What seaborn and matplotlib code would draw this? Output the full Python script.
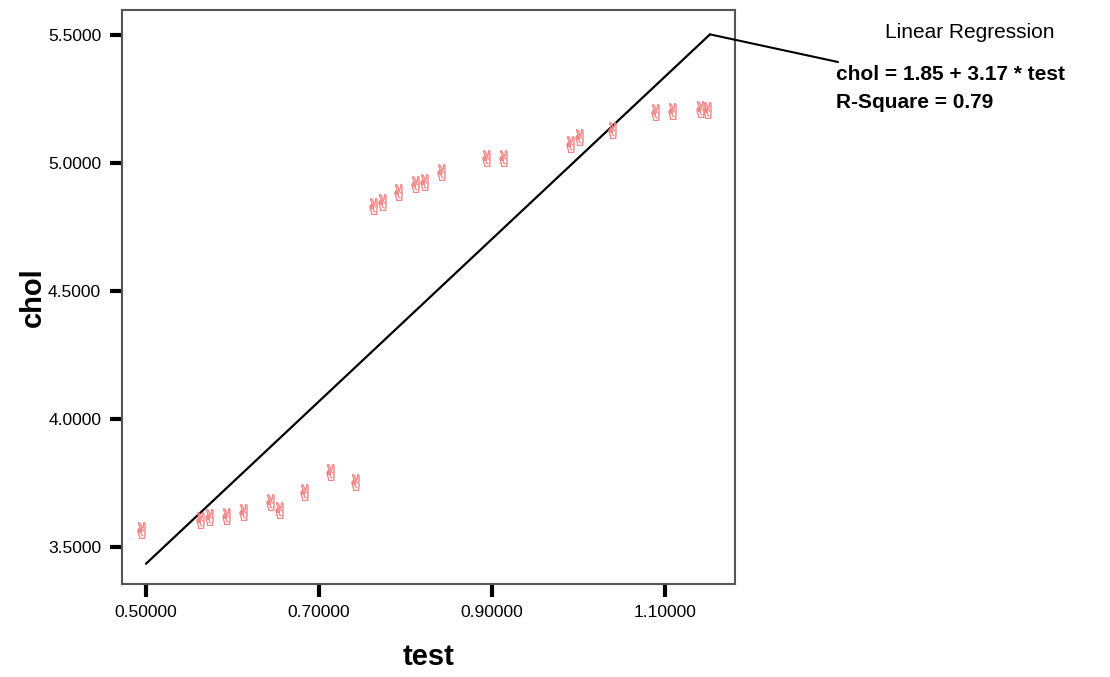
import matplotlib
matplotlib.use("Agg")
import matplotlib.pyplot as plt
import seaborn as sns
import numpy as np
import pandas as pd

# Observations
test = [0.494, 0.562, 0.573, 0.592, 0.612, 0.643, 0.654, 0.683, 0.713, 0.742,
        0.762, 0.773, 0.791, 0.811, 0.821, 0.841, 0.893, 0.913, 0.990, 1.001,
        1.039, 1.088, 1.108, 1.140, 1.148]
chol = [3.566, 3.605, 3.617, 3.621, 3.636, 3.675, 3.644, 3.714, 3.792, 3.753,
        4.831, 4.846, 4.885, 4.916, 4.924, 4.963, 5.021, 5.018, 5.072, 5.103,
        5.130, 5.197, 5.204, 5.212, 5.208]

# Fitted model
intercept = 1.85
slope = 3.17
r_square = 0.79
fit_range = [0.50, 1.152]

x_ticks = [0.5, 0.7, 0.9, 1.1]
x_tick_labels = ["0.50000", "0.70000", "0.90000", "1.10000"]
y_ticks = [3.5, 4.0, 4.5, 5.0, 5.5]
y_tick_labels = ["3.5000", "4.0000", "4.5000", "5.0000", "5.5000"]

df = pd.DataFrame({"test": test, "chol": chol})

sns.set_theme(style="white")
plt.rcParams["font.family"] = ["Liberation Sans", "DejaVu Sans"]
plt.rcParams["text.color"] = "black"
plt.rcParams["axes.labelcolor"] = "black"

fig = plt.figure(figsize=(11.1, 6.77), dpi=100)
ax = fig.add_axes([122 / 1110, 1 - 584 / 677, (735 - 122) / 1110, (584 - 10) / 677])

sns.scatterplot(data=df, x="test", y="chol", ax=ax, marker="$\u270C$",
                s=140, color="#f28484", edgecolor="#f28484", linewidth=0.4,
                zorder=3)

fx = np.array(fit_range)
fy = intercept + slope * fx
sns.lineplot(x=fx, y=fy, ax=ax, color="black", linewidth=1.6, zorder=2)

ax.set_xlim(0.4723, 1.1809)
ax.set_ylim(3.356, 5.597)
ax.set_xticks(x_ticks)
ax.set_xticklabels(x_tick_labels)
ax.set_yticks(y_ticks)
ax.set_yticklabels(y_tick_labels)
ax.tick_params(axis="both", direction="out", length=9, width=3, color="black",
               labelsize=12.5, labelcolor="black", bottom=True, left=True, pad=6)

for sp in ax.spines.values():
    sp.set_color("#555555")
    sp.set_linewidth(1.5)

ax.set_xlabel("test", fontsize=21, fontweight="bold", labelpad=17)
ax.set_ylabel("chol", fontsize=21, fontweight="bold", labelpad=1)

# Equation callout
x_end = fit_range[1]
y_end = intercept + slope * x_end
ax.annotate("", xy=(x_end, y_end), xycoords="data",
            xytext=(838 / 1110, 1 - 62 / 677), textcoords="figure fraction",
            arrowprops=dict(arrowstyle="-", color="black", lw=1.5,
                            shrinkA=0, shrinkB=0),
            annotation_clip=False)
fig.text(970 / 1110, 1 - 32 / 677, "Linear Regression", ha="center", va="center",
         fontsize=15)
fig.text(836 / 1110, 1 - 75 / 677, f"chol = {intercept:.2f} + {slope:.2f} * test",
         ha="left", va="center", fontsize=15, fontweight="bold")
fig.text(836 / 1110, 1 - 102 / 677, f"R-Square = {r_square:.2f}",
         ha="left", va="center", fontsize=15, fontweight="bold")

fig.savefig("out.png", dpi=100)
